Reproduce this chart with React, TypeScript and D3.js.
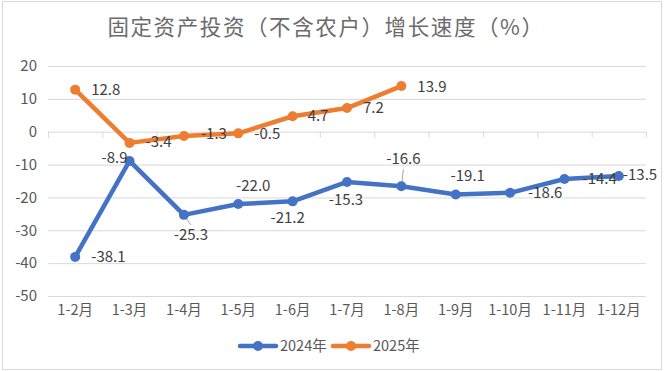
import React from "react";
import * as d3 from "d3";

const months = ["1-2月", "1-3月", "1-4月", "1-5月", "1-6月", "1-7月", "1-8月", "1-9月", "1-10月", "1-11月", "1-12月"];
const values2024 = [-38.1, -8.9, -25.3, -22.0, -21.2, -15.3, -16.6, -19.1, -18.6, -14.4, -13.5];
const values2025 = [12.8, -3.4, -1.3, -0.5, 4.7, 7.2, 13.9];
const yTicks = [20, 10, 0, -10, -20, -30, -40, -50];
const seriesNames = ["2024年", "2025年"];

// label placement, roughly as excel put them: [anchor, dx, dy]
const place2024: [string, number, number][] = [
  ["start", 16, 0], ["middle", -15, -3], ["middle", 7, 20], ["middle", 15, -18],
  ["middle", -5, 16], ["middle", -1, 18], ["middle", 2, -28], ["middle", 12, -19],
  ["start", 18, 0], ["start", 18, 0], ["start", 4, -1],
];
const place2025: [string, number, number][] = [
  ["start", 16, 0], ["start", 16, -1], ["start", 17, -2], ["start", 16, 0],
  ["start", 15, -1], ["start", 16, 0], ["start", 16, 1],
];

const W = 665, H = 371;
const margin = { top: 66, right: 19, bottom: 75, left: 48 };
const blue = "#4472C4", orange = "#ED7D31";
const font = "'Noto Sans CJK SC', 'Noto Sans', sans-serif";

export default function App() {
  const x = d3.scaleBand().domain(months).range([margin.left, W - margin.right]);
  const y = d3.scaleLinear().domain([-50, 20]).range([H - margin.bottom, margin.top]);
  const cx = (i: number) => (x(months[i]) as number) + x.bandwidth() / 2;

  const line = d3.line<number>().x((_, i) => cx(i)).y(d => y(d));

  const series = [
    { name: seriesNames[0], vals: values2024, color: blue, place: place2024 },
    { name: seriesNames[1], vals: values2025, color: orange, place: place2025 },
  ];

  const bounds = months.map(m => x(m) as number).concat([W - margin.right]);

  return (
    <svg width={W} height={H} style={{ position: "absolute", left: 0, top: 0, background: "#fff" }} fontFamily={font}>
      <rect x={2.5} y={1.5} width={659} height={368} fill="#fff" stroke="#d9d9d9" />
      <text x={326} y={35} textAnchor="middle" fontSize={21.5} letterSpacing={1.6} fill="#6b6b6b">
        固定资产投资（不含农户）增长速度（%）
      </text>

      {yTicks.map(t => (
        <g key={t}>
          <line x1={margin.left} x2={W - margin.right} y1={y(t) + 0.5} y2={y(t) + 0.5} stroke="#d9d9d9" />
          <text x={37} y={y(t)} dy="0.35em" textAnchor="end" fontSize={15} fill="#595959">{t}</text>
        </g>
      ))}
      {bounds.map((b, i) => (
        <line key={i} x1={b + 0.5} x2={b + 0.5} y1={y(0)} y2={y(0) + 6} stroke="#d9d9d9" />
      ))}
      {months.map((m, i) => (
        <text key={m} x={cx(i)} y={310} dy="0.35em" textAnchor="middle" fontSize={14.5} fill="#595959">{m}</text>
      ))}

      {/* leader lines */}
      <line x1={cx(2) + 1} y1={y(values2024[2]) + 2} x2={cx(2) + 7} y2={y(values2024[2]) + 10} stroke="#a6a6a6" />
      <line x1={cx(6) + 0.5} y1={y(values2024[6]) - 3} x2={cx(6) + 2} y2={y(values2024[6]) - 17} stroke="#a6a6a6" />

      {series.map(s => (
        <g key={s.name}>
          <path d={line(s.vals) as string} fill="none" stroke={s.color} strokeWidth={4.5} strokeLinejoin="round" strokeLinecap="round" />
          {s.vals.map((v, i) => (
            <circle key={i} cx={cx(i)} cy={y(v)} r={5} fill={s.color} />
          ))}
        </g>
      ))}
      {series.map(s => (
        <g key={s.name + "-lbl"}>
          {s.vals.map((v, i) => (
            <text key={i} x={cx(i) + s.place[i][1]} y={y(v) + s.place[i][2]} dy="0.35em"
              textAnchor={s.place[i][0]} fontSize={15} fill="#404040">{v.toFixed(1)}</text>
          ))}
        </g>
      ))}

      {series.map((s, k) => {
        const lx = k === 0 ? 240 : 333;
        return (
          <g key={s.name + "-leg"}>
            <line x1={lx} x2={lx + 36} y1={346} y2={346} stroke={s.color} strokeWidth={4.5} strokeLinecap="round" />
            <circle cx={lx + 18} cy={346} r={5} fill={s.color} />
            <text x={lx + 40} y={346} dy="0.35em" fontSize={14.5} fill="#595959">{s.name}</text>
          </g>
        );
      })}
    </svg>
  );
}
